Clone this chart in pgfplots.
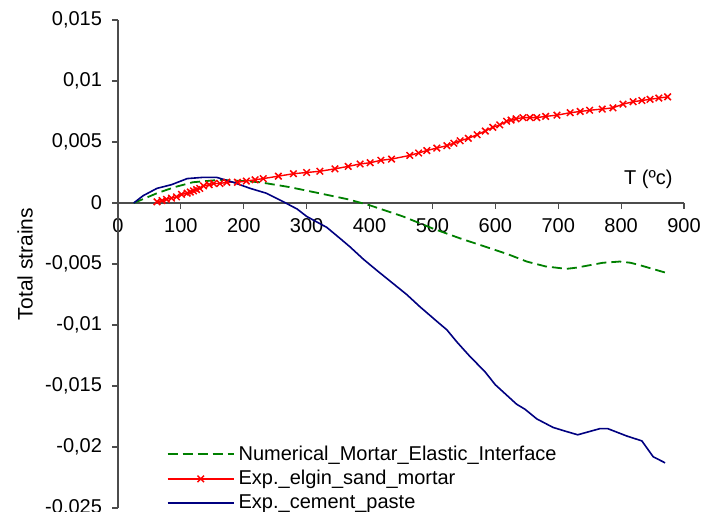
\documentclass[border=0pt]{standalone}
\usepackage{fontspec}
\setmainfont{Liberation Sans}
\usepackage{pgfplots}
\pgfplotsset{compat=1.18}
\definecolor{numgreen}{RGB}{0,128,0}
\definecolor{expred}{RGB}{255,0,0}
\definecolor{navyblue}{RGB}{0,0,128}
\colorlet{axgray}{gray!60!black}
\begin{document}
\begin{tikzpicture}
\useasboundingbox (0,0) rectangle (351pt,256pt);
% x axis drawn at strain = 0
\begin{axis}[
  at={(59pt,154.5pt)}, anchor=south west,
  scale only axis, width=283pt, height=50pt,
  xmin=0, xmax=900, ymin=0, ymax=1,
  axis x line=bottom, axis y line=none,
  axis line style={-, axgray, line width=0.6pt},
  scaled x ticks=false,
  xtick={0,100,200,300,400,500,600,700,800,900},
  xticklabels={0,100,200,300,400,500,600,700,800,900},
  tick label style={font=\fontsize{10}{11}\selectfont},
  x tick label style={yshift=-1pt},
  tick align=outside, major tick length=3pt,
  x tick style={draw=axgray, line width=0.6pt},
]
\end{axis}
\begin{axis}[
  at={(59pt,2pt)}, anchor=south west,
  scale only axis, width=283pt, height=244pt,
  xmin=0, xmax=900, ymin=-0.025, ymax=0.015,
  axis x line=none, axis y line=left,
  axis line style={-, axgray, line width=0.6pt},
  scaled y ticks=false,
  ytick={-0.025,-0.02,-0.015,-0.01,-0.005,0,0.005,0.01,0.015},
  yticklabels={{-0,025},{-0,02},{-0,015},{-0,01},{-0,005},{0},{0,005},{0,01},{0,015}},
  tick label style={font=\fontsize{10}{11}\selectfont},
  y tick label style={xshift=-1.5pt},
  tick align=outside, major tick length=3pt,
  y tick style={draw=axgray, line width=0.6pt},
  ylabel={Total strains},
  ylabel style={at={(axis description cs:-0.164,0.5)}, anchor=center, font=\fontsize{10.5}{11}\selectfont},
  legend style={draw=none, fill=none, at={(axis description cs:0.075,0.145)}, anchor=north west,
    font=\fontsize{10}{11}\selectfont, row sep=-0.5pt},
  legend cell align=left,
  legend image code/.code={\draw[mark repeat=2,mark phase=2,#1] plot coordinates {(0pt,0pt) (16.5pt,0pt) (33pt,0pt)};},
]
\addplot[numgreen, line width=0.9pt, dash pattern=on 5pt off 2.5pt, mark=none] coordinates {
(25,0) (62,0.0008) (90,0.0013) (119,0.0017) (162,0.0019) (200,0.0018) (226,0.0017)
(273,0.0013) (320,0.0008) (366,0.0003) (401,-0.0002) (453,-0.0011) (501,-0.0021)
(544,-0.0029) (591,-0.0037) (620,-0.0042) (650,-0.0048) (680,-0.0052) (713,-0.0054)
(729,-0.0053) (750,-0.0051) (771,-0.0049) (798,-0.0048) (815,-0.0049) (830,-0.0051)
(850,-0.0054) (870,-0.0057)
};
\addlegendentry{Numerical\_Mortar\_Elastic\_Interface}
\addplot[expred, line width=0.7pt, mark=x, mark size=2.3pt, mark options={solid, line width=0.75pt}] coordinates {
(62,0.0001) (70,0.0002) (77,0.0003) (85,0.0004) (93,0.0005) (101,0.0007) (110,0.0008)
(115,0.0009) (120,0.0010) (125,0.0011) (130,0.0012) (136,0.0014) (145,0.0015) (152,0.0016)
(162,0.0016) (173,0.0017) (190,0.0017) (204,0.0018) (218,0.0019) (231,0.0020) (255,0.0022)
(279,0.0024) (300,0.0025) (321,0.0026) (345,0.0028) (366,0.0030) (385,0.0032) (401,0.0033)
(418,0.0035) (435,0.0036) (464,0.0039) (478,0.0041) (491,0.0043) (507,0.0045) (523,0.0047)
(534,0.0049) (544,0.0051) (557,0.0053) (571,0.0056) (584,0.0059) (596,0.0062) (607,0.0064)
(618,0.0067) (625,0.0068) (633,0.0069) (644,0.0070) (655,0.0070) (666,0.0070) (680,0.0071)
(698,0.0072) (719,0.0074) (735,0.0075) (750,0.0076) (770,0.0077) (787,0.0078) (803,0.0081)
(819,0.0083) (833,0.0084) (846,0.0085) (860,0.0086) (874,0.0087)
};
\addlegendentry{Exp.\_elgin\_sand\_mortar}
\addplot[navyblue, line width=0.8pt, mark=none] coordinates {
(25,0) (40,0.0006) (62,0.0012) (85,0.0015) (110,0.0020) (135,0.0021) (157,0.0021)
(183,0.0017) (210,0.0012) (236,0.0008) (263,0.0001) (285,-0.0005) (300,-0.0011)
(332,-0.0020) (353,-0.0029) (369,-0.0036) (390,-0.0046) (411,-0.0055) (435,-0.0065) (459,-0.0075)
(480,-0.0085) (507,-0.0097) (523,-0.0104) (539,-0.0114) (560,-0.0126) (583,-0.0138)
(600,-0.0149) (617,-0.0157) (634,-0.0165) (647,-0.0169) (666,-0.0177) (692,-0.0184)
(711,-0.0187) (731,-0.0190) (745,-0.0188) (766,-0.0185) (779,-0.0185) (809,-0.0191)
(833,-0.0195) (851,-0.0208) (870,-0.0213)
};
\addlegendentry{Exp.\_cement\_paste}
\node[anchor=east, font=\fontsize{10}{11}\selectfont] at (axis cs:893,0.0019) {T (ºc)};
\end{axis}
\end{tikzpicture}
\end{document}
